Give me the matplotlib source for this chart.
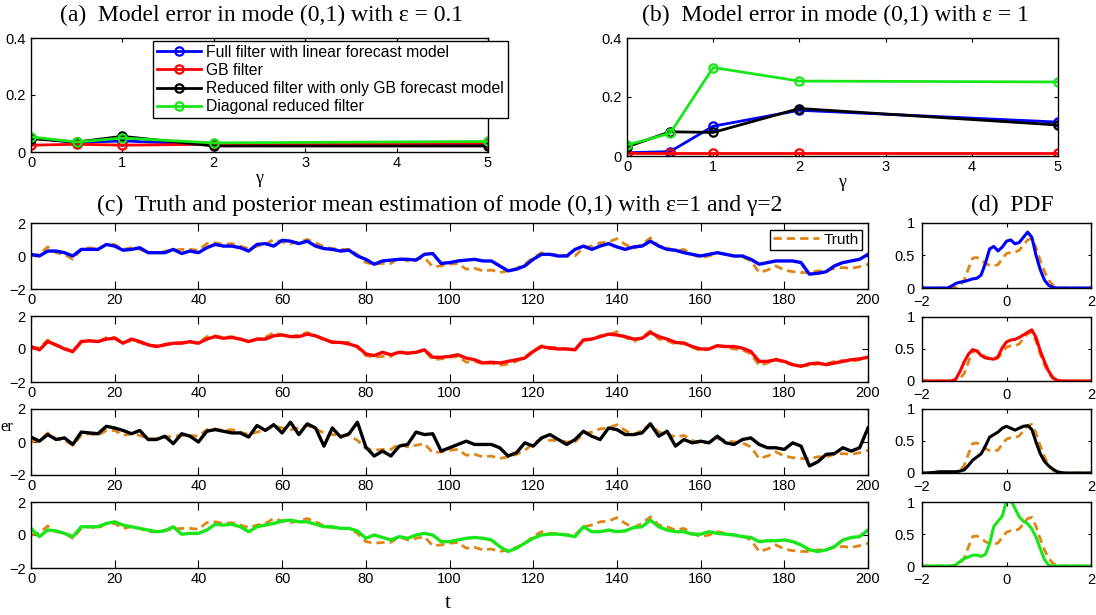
# Model error / posterior mean estimation figure, MATLAB-like layout
import matplotlib
matplotlib.use("Agg")
import matplotlib.pyplot as plt
import numpy as np

plt.rcParams["font.family"] = ["Liberation Sans", "DejaVu Sans"]
plt.rcParams["font.size"] = 10.5
SERIF = ["Liberation Serif", "DejaVu Serif"]

# ---- data: panels (a) and (b) ----
gamma = [0, 0.5, 1, 2, 5]
err_a_full = [0.050, 0.033, 0.039, 0.026, 0.026]
err_a_gb = [0.024, 0.027, 0.024, 0.027, 0.031]
err_a_reduced = [0.047, 0.035, 0.055, 0.021, 0.021]
err_a_diag = [0.053, 0.035, 0.049, 0.032, 0.037]

err_b_full = [0.011, 0.015, 0.101, 0.155, 0.115]
err_b_gb = [0.010, 0.010, 0.010, 0.010, 0.010]
err_b_reduced = [0.031, 0.082, 0.080, 0.161, 0.105]
err_b_diag = [0.037, 0.077, 0.300, 0.254, 0.251]

# ---- data: panel (c), sampled every 2 time units ----
t = np.arange(0, 201, 2)
truth = [0.0, 0.1, 0.55, 0.2, 0.1, -0.2, 0.4, 0.5, 0.4, 0.7,
         0.7, 0.4, 0.5, 0.4, 0.2, 0.2, 0.3, 0.35, 0.4, 0.4,
         0.35, 0.75, 0.8, 0.7, 0.75, 0.6, 0.45, 0.6, 0.7, 1.0,
         0.85, 0.75, 0.85, 1.0, 0.8, 0.55, 0.45, 0.4, 0.4, 0.1,
         -0.4, -0.5, -0.45, -0.45, -0.1, -0.3, -0.2, -0.1, -0.65, -0.6,
         -0.5, -0.45, -0.8, -0.75, -0.9, -0.85, -1.0, -0.9, -0.75, -0.5,
         -0.1, 0.2, 0.1, 0.1, 0.0, 0.0, 0.5, 0.6, 0.8, 0.85,
         1.05, 0.7, 0.45, 0.7, 1.1, 0.6, 0.5, 0.3, 0.4, 0.1,
         -0.1, 0.0, 0.2, 0.1, 0.0, -0.05, -0.3, -1.0, -0.85, -0.6,
         -0.85, -0.95, -1.0, -1.0, -0.9, -0.9, -0.75, -0.7, -0.75, -0.65,
         -0.5]
est_full = [0.1, 0.0, 0.3, 0.3, 0.2, 0.0, 0.4, 0.4, 0.4, 0.7,
            0.6, 0.35, 0.4, 0.5, 0.2, 0.2, 0.2, 0.4, 0.15, 0.3,
            0.2, 0.5, 0.7, 0.6, 0.6, 0.5, 0.3, 0.7, 0.75, 0.6,
            0.95, 0.9, 0.75, 0.9, 0.6, 0.45, 0.4, 0.3, 0.35, 0.0,
            -0.2, -0.5, -0.3, -0.25, -0.2, -0.2, -0.25, 0.1, 0.15, -0.45,
            -0.4, -0.3, -0.25, -0.2, -0.3, -0.3, -0.6, -0.9, -0.8, -0.6,
            -0.2, 0.1, 0.1, 0.0, 0.0, 0.4, 0.6, 0.4, 0.6, 0.75,
            0.55, 0.4, 0.55, 0.6, 0.9, 0.6, 0.4, 0.35, 0.2, 0.1,
            0.0, 0.1, 0.2, 0.1, 0.0, 0.0, -0.2, -0.5, -0.4, -0.3,
            -0.3, -0.3, -0.4, -1.1, -1.05, -0.95, -0.6, -0.4, -0.3, -0.2,
            0.1]
est_gb = [0.15, -0.05, 0.45, 0.25, 0.0, -0.15, 0.45, 0.5, 0.45, 0.6,
          0.65, 0.35, 0.6, 0.45, 0.25, 0.15, 0.25, 0.35, 0.35, 0.45,
          0.35, 0.6, 0.75, 0.65, 0.7, 0.6, 0.45, 0.6, 0.6, 0.8,
          0.85, 0.75, 0.75, 0.9, 0.8, 0.6, 0.4, 0.4, 0.3, 0.15,
          -0.3, -0.4, -0.2, -0.35, -0.2, -0.25, -0.2, -0.05, -0.5, -0.5,
          -0.45, -0.35, -0.55, -0.65, -0.85, -0.8, -0.85, -0.75, -0.65, -0.55,
          -0.15, 0.15, 0.05, 0.0, 0.0, -0.05, 0.55, 0.6, 0.75, 0.9,
          0.85, 0.75, 0.6, 0.65, 1.0, 0.75, 0.6, 0.4, 0.35, 0.15,
          0.0, 0.0, 0.2, 0.15, 0.15, 0.05, -0.15, -0.75, -0.75, -0.65,
          -0.75, -0.95, -1.05, -0.9, -0.85, -0.95, -0.85, -0.75, -0.65, -0.6,
          -0.5]
est_reduced = [0.3, 0.05, 0.45, 0.15, 0.25, -0.15, 0.6, 0.55, 0.5, 0.95,
               0.85, 0.7, 0.5, 0.7, 0.15, 0.15, 0.35, -0.1, 0.5, 0.35,
               0.0, 0.65, 0.75, 0.65, 0.55, 0.55, 0.3, 1.0, 0.7, 1.05,
               0.55, 1.2, 0.45, 1.1, 0.85, -0.25, 0.85, 0.3, 0.5, 1.2,
               -0.3, -0.85, -0.55, -0.85, -0.25, -0.15, 0.6, 0.45, 0.5, -0.55,
               -0.35, -0.15, 0.05, -0.15, -0.15, -0.15, -0.35, -0.85, -0.65, -0.05,
               -0.25, 0.25, 0.45, 0.15, -0.15, 0.15, 0.65, 0.35, 0.15, 0.85,
               0.75, 0.45, 0.45, 0.55, 1.1, 0.35, 0.65, -0.25, 0.15, -0.05,
               0.05, -0.05, 0.35, -0.05, -0.15, 0.15, 0.25, -0.15, -0.35, -0.35,
               -0.45, -0.05, -0.25, -1.45, -1.2, -0.75, -0.7, -0.35, -0.55, -0.35,
               0.85]
est_diag = [0.4, -0.1, 0.3, 0.25, 0.1, -0.1, 0.5, 0.5, 0.5, 0.7,
            0.8, 0.6, 0.5, 0.4, 0.3, 0.2, 0.25, 0.5, 0.05, 0.1,
            0.1, 0.3, 0.65, 0.6, 0.65, 0.5, 0.2, 0.5, 0.6, 0.7,
            0.85, 0.9, 0.8, 0.8, 0.65, 0.5, 0.5, 0.4, 0.4, 0.25,
            -0.2, 0.0, -0.15, -0.3, -0.1, -0.2, 0.0, 0.1, 0.0, -0.4,
            -0.4, -0.3, -0.2, -0.15, -0.2, -0.3, -0.7, -1.0, -0.8, -0.5,
            -0.2, 0.0, 0.05, 0.05, 0.0, -0.1, 0.5, 0.2, 0.2, 0.3,
            0.2, 0.25, 0.45, 0.5, 0.9, 0.5, 0.3, 0.2, 0.2, 0.05,
            0.05, 0.2, 0.1, 0.05, 0.0, -0.1, -0.15, -0.4, -0.35, -0.35,
            -0.3, -0.4, -0.6, -0.9, -1.0, -0.9, -0.7, -0.3, -0.15, -0.1,
            0.3]

# ---- data: panel (d), PDFs on x = -2..2 step 0.1 ----
pdf_x = np.round(np.arange(-2, 2.001, 0.1), 1)
pdf_truth = [0, 0, 0, 0, 0, 0, 0, 0, 0.01, 0.04,
             0.12, 0.3, 0.46, 0.47, 0.43, 0.38, 0.35, 0.34, 0.36, 0.45,
             0.53, 0.55, 0.55, 0.58, 0.66, 0.74, 0.76, 0.62, 0.42, 0.25,
             0.12, 0.04, 0.01, 0, 0, 0, 0, 0, 0, 0,
             0]
pdf_full = [0, 0, 0, 0, 0, 0, 0, 0.03, 0.07, 0.09,
            0.1, 0.12, 0.14, 0.15, 0.2, 0.38, 0.6, 0.64, 0.57, 0.63,
            0.72, 0.74, 0.68, 0.7, 0.78, 0.86, 0.78, 0.5, 0.28, 0.12,
            0.04, 0.01, 0, 0, 0, 0, 0, 0, 0, 0,
            0]
pdf_gb = [0, 0, 0, 0, 0, 0, 0, 0, 0.03, 0.15,
          0.3, 0.42, 0.49, 0.47, 0.4, 0.36, 0.35, 0.34, 0.38, 0.52,
          0.61, 0.64, 0.65, 0.68, 0.72, 0.76, 0.8, 0.68, 0.47, 0.3,
          0.15, 0.05, 0.01, 0, 0, 0, 0, 0, 0, 0,
          0]
pdf_reduced = [0, 0, 0.005, 0.01, 0.02, 0.02, 0.02, 0.02, 0.02, 0.03,
               0.05, 0.12, 0.2, 0.25, 0.3, 0.42, 0.56, 0.6, 0.64, 0.7,
               0.73, 0.7, 0.67, 0.7, 0.73, 0.74, 0.68, 0.48, 0.3, 0.18,
               0.11, 0.06, 0.02, 0.005, 0, 0, 0, 0, 0, 0,
               0]
pdf_diag = [0, 0, 0, 0, 0, 0, 0, 0, 0.02, 0.07,
            0.12, 0.14, 0.17, 0.17, 0.15, 0.18, 0.35, 0.62, 0.7, 0.78,
            1.02, 1.03, 0.9, 0.77, 0.7, 0.66, 0.58, 0.45, 0.27, 0.1,
            0.01, 0, 0, 0, 0, 0, 0, 0, 0, 0,
            0]

labels = ["Full filter with linear forecast model", "GB filter",
          "Reduced filter with only GB forecast model", "Diagonal reduced filter"]
colors = ["#0000FF", "#FF0000", "#000000", "#19E619"]
TRUTH_C = "#DF8515"
TICK_FS = 10.5
TITLE_FS = 17

W, H = 1096, 615
fig = plt.figure(figsize=(W / 100, H / 100), dpi=100)


def box(x0, x1, y0, y1):
    return [x0 / W, 1 - y1 / H, (x1 - x0) / W, (y1 - y0) / H]


def style(ax, xlen=3, ylen=3, xpad=3, ypad=4):
    ax.tick_params(direction="in", top=True, right=True, labelsize=TICK_FS)
    ax.tick_params(axis="x", length=xlen, pad=xpad)
    ax.tick_params(axis="y", length=ylen, pad=ypad)
    for s in ax.spines.values():
        s.set_linewidth(1.0)


# (a) and (b)
ax_a = fig.add_axes(box(31, 488, 38, 152))
ax_b = fig.add_axes(box(627, 1058, 38, 156))
for ax, series in [(ax_a, [err_a_full, err_a_gb, err_a_reduced, err_a_diag]),
                   (ax_b, [err_b_full, err_b_gb, err_b_reduced, err_b_diag])]:
    for vals, c, lab in zip(series, colors, labels):
        ax.plot(gamma, vals, color=c, lw=2, marker="o", ms=6, mfc="none",
                mew=1.6, label=lab)
    ax.set_xlim(0, 5)
    ax.set_ylim(0, 0.4)
    ax.set_xticks([0, 1, 2, 3, 4, 5])
    ax.set_yticks([0, 0.2, 0.4])
    ax.set_yticklabels(["0", "0.2", "0.4"])
    ax.set_xlabel("γ", family=SERIF, fontsize=13, labelpad=0)
    style(ax)

leg = ax_a.legend(loc="upper right", bbox_to_anchor=(1.044, 0.975),
                  fontsize=11.3, frameon=True, fancybox=False, framealpha=1,
                  edgecolor="black", handlelength=2.8, borderpad=0.25,
                  labelspacing=0.2, handletextpad=0.35, borderaxespad=0)
leg.get_frame().set_linewidth(1.0)

fig.text(262 / W, 1 - 15 / H, "(a)  Model error in mode (0,1) with ε = 0.1",
         family=SERIF, fontsize=TITLE_FS, ha="center", va="center")
fig.text(835 / W, 1 - 15 / H, "(b)  Model error in mode (0,1) with ε = 1",
         family=SERIF, fontsize=TITLE_FS, ha="center", va="center")

# (c) time series
rows_c = [(223, 289), (316, 382), (409, 475), (502, 568)]
rows_d = [(223, 288), (317, 381), (409, 473), (502, 566)]
estimates = [est_full, est_gb, est_reduced, est_diag]
pdfs = [pdf_full, pdf_gb, pdf_reduced, pdf_diag]
dash = (0, (3, 1.8))

for i in range(4):
    ax = fig.add_axes(box(31, 868, *rows_c[i]))
    ax.plot(t, truth, color=TRUTH_C, lw=2, ls=dash, label="Truth")
    ax.plot(t, estimates[i], color=colors[i], lw=2.4)
    ax.set_xlim(0, 200)
    ax.set_ylim(-2, 2)
    ax.set_xticks(np.arange(0, 201, 20))
    ax.set_yticks([-2, 0, 2])
    style(ax, xlen=6, ylen=4)
    if i == 0:
        lg = ax.legend(loc="upper right", bbox_to_anchor=(0.993, 0.9),
                       fontsize=11, frameon=True, fancybox=False, framealpha=1,
                       edgecolor="black", handlelength=3.0, borderpad=0.2,
                       handletextpad=0.3, borderaxespad=0)
        lg.get_frame().set_linewidth(1.0)

    # (d) PDFs
    axd = fig.add_axes(box(922, 1091, *rows_d[i]))
    axd.plot(pdf_x, pdf_truth, color=TRUTH_C, lw=2, ls=dash)
    axd.plot(pdf_x, pdfs[i], color=colors[i], lw=2.2)
    axd.set_xlim(-2, 2)
    axd.set_ylim(0, 1)
    axd.set_xticks([-2, 0, 2])
    axd.set_yticks([0, 0.5, 1])
    axd.set_yticklabels(["0", "0.5", "1"])
    style(axd, xlen=3, ylen=2, xpad=5, ypad=5)

fig.text(448 / W, 1 - 604 / H, "t", family=SERIF, fontsize=16,
         ha="center", va="center")
fig.text(440 / W, 1 - 205 / H,
         "(c)  Truth and posterior mean estimation of mode (0,1) with ε=1 and γ=2",
         family=SERIF, fontsize=TITLE_FS, ha="center", va="center")
fig.text(1012 / W, 1 - 205 / H, "(d)  PDF", family=SERIF, fontsize=TITLE_FS,
         ha="center", va="center")
fig.text(0, 1 - 427 / H, "er", family=SERIF, fontsize=12, ha="left", va="center")

fig.savefig("out.png", dpi=100)
